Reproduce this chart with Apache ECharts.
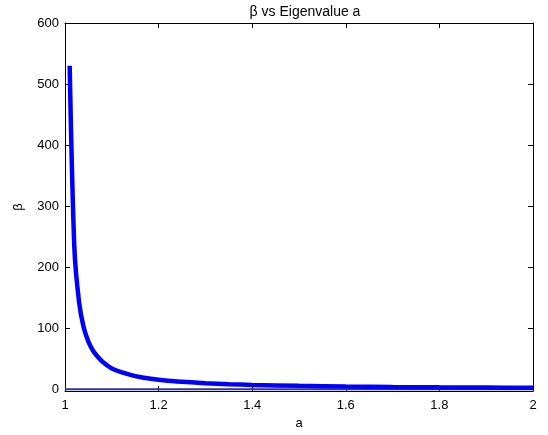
<!DOCTYPE html>
<html>
<head>
<meta charset="utf-8">
<script src="https://cdn.jsdelivr.net/npm/echarts@6/dist/echarts.min.js"></script>
<style>html,body{margin:0;padding:0;background:#fff}#c{width:548px;height:435px}</style>
</head>
<body>
<div id="c"></div>
<script>
var aValues = [1.01,1.02,1.03,1.04,1.05,1.06,1.07,1.08,1.09,1.10,1.12,1.14,1.16,1.18,1.20,1.25,1.30,1.35,1.40,1.50,1.60,1.70,1.80,1.90,2.00];
var betaValues = [530,232,143,101,78,63,53,45,39,34,28,23.5,20,17.5,15.5,12,9.8,8.2,7,5.5,4.4,3.6,3.0,2.6,2.3];
var zeroA = [1, 2];
var zeroBeta = [0, 0];
var xTicks = [1, 1.2, 1.4, 1.6, 1.8, 2];
var yTicks = [0, 100, 200, 300, 400, 500, 600];

var chart = echarts.init(document.getElementById('c'));
var font = 'Liberation Sans, Arial, Helvetica, sans-serif';
var mainLine = aValues.map(function(a, i){ return [a, betaValues[i]]; });
var zeroLine = zeroA.map(function(a, i){ return [a, zeroBeta[i]]; });
function xAx(pos, showLabel, name){
  return {
    type: 'value', position: pos, min: 1, max: 2, interval: 0.2,
    name: name, nameLocation: 'middle', nameGap: 24,
    nameTextStyle: {color: '#000', fontFamily: font, fontSize: 13},
    axisLine: {show: true, onZero: false, lineStyle: {color: '#000', width: 1}},
    axisTick: {show: true, inside: true, length: 5, lineStyle: {color: '#000'}},
    axisLabel: {show: showLabel, color: '#000', fontFamily: font, fontSize: 13, margin: 8,
      formatter: function(v){ return String(Math.round(v*10)/10); }},
    splitLine: {show: false}
  };
}
function yAx(pos, showLabel, name){
  return {
    type: 'value', position: pos, min: -3, max: 600,
    name: name, nameLocation: 'middle', nameGap: 40, nameRotate: 90,
    nameTextStyle: {color: '#000', fontFamily: font, fontSize: 13},
    axisLine: {show: true, onZero: false, lineStyle: {color: '#000', width: 1}},
    axisTick: {show: true, inside: true, length: 5, customValues: yTicks, lineStyle: {color: '#000'}},
    axisLabel: {show: showLabel, customValues: yTicks, color: '#000', fontFamily: font, fontSize: 13, margin: 6},
    splitLine: {show: false}
  };
}
chart.setOption({
  animation: false,
  backgroundColor: '#fff',
  title: {text: 'β vs Eigenvalue a', left: 300, textAlign: 'center', top: 0,
    textStyle: {color: '#000', fontFamily: font, fontSize: 14, fontWeight: 'normal'}},
  grid: {left: 65, right: 15, top: 23, bottom: 44},
  xAxis: [xAx('bottom', true, 'a'), xAx('top', false, '')],
  yAxis: [yAx('left', true, 'β'), yAx('right', false, '')],
  series: [
    {type: 'line', data: zeroLine, showSymbol: false, xAxisIndex: 0, yAxisIndex: 0,
     lineStyle: {color: '#333399', width: 2}, z: 2},
    {type: 'line', data: mainLine, showSymbol: false, smooth: 0.3, xAxisIndex: 0, yAxisIndex: 0,
     lineStyle: {color: '#0000ff', width: 4.5}, z: 3}
  ]
});
</script>
</body>
</html>
